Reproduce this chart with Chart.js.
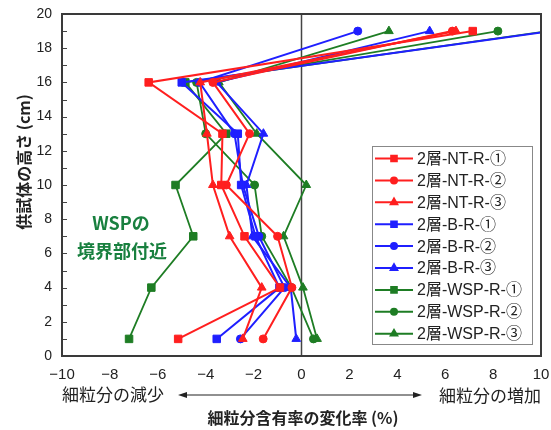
<!DOCTYPE html>
<html>
<head>
<meta charset="utf-8">
<script src="https://cdn.jsdelivr.net/npm/chart.js@4.4.0/dist/chart.umd.min.js"></script>
<style>
  body { margin: 0; background: #fff; }
  #wrap { width: 551px; height: 430px; }
</style>
</head>
<body>
<div id="wrap"><canvas id="chart" width="551" height="430"></canvas></div>
<script>
// heights of the specimen (cm) where change rate was measured
var heights = [1, 4, 7, 10, 13, 16, 19];

// change rate of fines content (%) at each height
var ntR1 = [-5.15, -0.9, -2.38, -3.35, -3.3, -6.38, 7.15];
var ntR2 = [-1.6, -0.4, -1.0, -3.14, -2.17, -3.7, 6.3];
var ntR3 = [-2.45, -1.66, -3.0, -3.7, -3.95, -4.23, 6.45];
var bR1 = [-3.54, -0.92, -1.92, -2.52, -2.66, -5.0, 10.4];
var bR2 = [-2.55, -0.71, -1.78, -2.45, -2.8, -4.26, 2.35];
var bR3 = [-0.22, -0.45, -2.05, -2.3, -1.59, -3.54, 5.35];
var wspR1 = [-7.2, -6.27, -4.52, -5.26, -3.14, -4.85, 10.3];
var wspR2 = [0.5, -0.42, -1.66, -1.96, -4.0, -4.38, 8.2];
var wspR3 = [0.65, 0.06, -0.75, 0.2, -1.87, -3.45, 3.65];

var seriesNames = ['2層-NT-R-①', '2層-NT-R-②', '2層-NT-R-③',
                   '2層-B-R-①', '2層-B-R-②', '2層-B-R-③',
                   '2層-WSP-R-①', '2層-WSP-R-②', '2層-WSP-R-③'];
var seriesValues = [ntR1, ntR2, ntR3, bR1, bR2, bR3, wspR1, wspR2, wspR3];

var xTicks = [-10, -8, -6, -4, -2, 0, 2, 4, 6, 8, 10];
var yTicks = [0, 2, 4, 6, 8, 10, 12, 14, 16, 18, 20];

var RED = '#ff1f1f', BLUE = '#1f1fff', GREEN = '#1e7d24';
var colors = [RED, RED, RED, BLUE, BLUE, BLUE, GREEN, GREEN, GREEN];
var shapes = ['rect', 'circle', 'triangle'];
var radii = { rect: 5.3, circle: 4, triangle: 5 };

function toPoints(vals) {
  return vals.map(function (v, i) { return { x: v, y: heights[i] }; });
}

var datasets = seriesValues.map(function (vals, i) {
  var shape = shapes[i % 3];
  return {
    label: seriesNames[i],
    data: toPoints(vals),
    showLine: true,
    borderColor: colors[i],
    backgroundColor: colors[i],
    borderWidth: colors[i] == GREEN ? 1.8 : 2,
    pointStyle: shape,
    pointRadius: radii[shape],
    pointBorderWidth: 1
  };
});

var FONT_JP = "'Noto Sans CJK JP', sans-serif";
var FONT_NUM = "'Liberation Sans', 'Noto Sans CJK JP', sans-serif";

var decor = {
  id: 'decor',
  beforeDatasetsDraw: function (chart) {
    var ctx = chart.ctx, a = chart.chartArea;
    var xs = chart.scales.x, ys = chart.scales.y;
    ctx.save();
    // zero line
    var x0 = xs.getPixelForValue(0);
    ctx.strokeStyle = '#444';
    ctx.lineWidth = 1.5;
    ctx.beginPath();
    ctx.moveTo(x0, a.top);
    ctx.lineTo(x0, a.bottom);
    ctx.stroke();
    // minor / major ticks on y axis (inside)
    ctx.lineWidth = 1;
    for (var v = 1; v < 20; v++) {
      var py = Math.round(ys.getPixelForValue(v)) + 0.5;
      ctx.beginPath();
      ctx.moveTo(a.left, py);
      ctx.lineTo(a.left + 5, py);
      ctx.stroke();
    }
    // annotation
    ctx.fillStyle = '#19803f';
    ctx.font = 'bold 18px ' + FONT_JP;
    ctx.textAlign = 'center';
    ctx.textBaseline = 'middle';
    ctx.fillText('WSPの', 121, 223);
    ctx.fillText('境界部付近', 122, 251);
    ctx.restore();
  },
  afterDatasetsDraw: function (chart) {
    var ctx = chart.ctx, a = chart.chartArea;
    ctx.save();
    // frame
    ctx.strokeStyle = '#3a3a3a';
    ctx.lineWidth = 2;
    ctx.strokeRect(a.left, a.top, a.right - a.left, a.bottom - a.top);

    // legend
    var lx = 372, ly = 146, lw = 160, lh = 198;
    ctx.fillStyle = '#fff';
    ctx.fillRect(lx, ly, lw, lh);
    ctx.strokeStyle = '#888';
    ctx.lineWidth = 1;
    ctx.strokeRect(lx + 0.5, ly + 0.5, lw, lh);
    ctx.font = '16px ' + FONT_NUM;
    ctx.textAlign = 'left';
    ctx.textBaseline = 'middle';
    chart.data.datasets.forEach(function (ds, i) {
      var ry = ly + 12.5 + i * 21.9;
      ctx.strokeStyle = ds.borderColor;
      ctx.fillStyle = ds.borderColor;
      ctx.lineWidth = 2;
      ctx.beginPath();
      ctx.moveTo(lx + 3, ry);
      ctx.lineTo(lx + 41, ry);
      ctx.stroke();
      Chart.helpers.drawPoint(ctx, { pointStyle: ds.pointStyle, radius: ds.pointRadius * 0.75, rotation: 0, borderWidth: 1 }, lx + 22, ry);
      ctx.fillStyle = '#222';
      ctx.fillText(ds.label, lx + 45, ry + 1);
    });

    // axis titles and arrow
    ctx.fillStyle = '#222';
    ctx.font = '17px ' + FONT_JP;
    ctx.textAlign = 'left';
    ctx.fillText('細粒分の減少', a.left, 395);
    ctx.textAlign = 'right';
    ctx.fillText('細粒分の増加', a.right, 396);
    ctx.strokeStyle = '#222';
    ctx.lineWidth = 1.2;
    var ax1 = 178, ax2 = 422, ay = 395;
    ctx.beginPath();
    ctx.moveTo(ax1 + 4, ay);
    ctx.lineTo(ax2 - 4, ay);
    ctx.stroke();
    ctx.beginPath();
    ctx.moveTo(ax1, ay); ctx.lineTo(ax1 + 9, ay - 3); ctx.lineTo(ax1 + 9, ay + 3); ctx.closePath();
    ctx.moveTo(ax2, ay); ctx.lineTo(ax2 - 9, ay - 3); ctx.lineTo(ax2 - 9, ay + 3); ctx.closePath();
    ctx.fill();

    ctx.font = 'bold 16px ' + FONT_JP;
    ctx.textAlign = 'center';
    ctx.fillText('細粒分含有率の変化率 (%)', 303, 418);

    ctx.translate(24, 162);
    ctx.rotate(-Math.PI / 2);
    ctx.font = 'bold 16px ' + FONT_JP;
    ctx.fillText('供試体の高さ (cm)', 0, 0);
    ctx.restore();
  }
};

var ctx = document.getElementById('chart').getContext('2d');
var chart = new Chart(ctx, {
  type: 'scatter',
  data: { datasets: datasets },
  plugins: [decor],
  options: {
    responsive: false,
    animation: false,
    devicePixelRatio: 1,
    layout: { padding: { top: 14, right: 10, left: 0, bottom: 0 } },
    plugins: { legend: { display: false }, tooltip: { enabled: false } },
    scales: {
      x: {
        type: 'linear', min: -10, max: 10,
        afterFit: function (s) { s.height = 74; s.paddingLeft = 0; s.paddingRight = 0; },
        afterBuildTicks: function (s) { s.ticks = xTicks.map(function (v) { return { value: v }; }); },
        grid: { display: false, drawTicks: false },
        border: { display: false },
        ticks: {
          padding: 10, color: '#222',
          font: { family: FONT_NUM, size: 15 },
          callback: function (v) { return v < 0 ? '\u2212' + Math.abs(v) : String(v); }
        }
      },
      y: {
        type: 'linear', min: 0, max: 20,
        afterFit: function (s) { s.width = 62; s.paddingTop = 0; s.paddingBottom = 0; },
        afterBuildTicks: function (s) { s.ticks = yTicks.map(function (v) { return { value: v }; }); },
        grid: { display: false, drawTicks: false },
        border: { display: false },
        ticks: {
          padding: 10, color: '#222',
          font: { family: FONT_NUM, size: 14 }
        }
      }
    }
  }
});
</script>
</body>
</html>
